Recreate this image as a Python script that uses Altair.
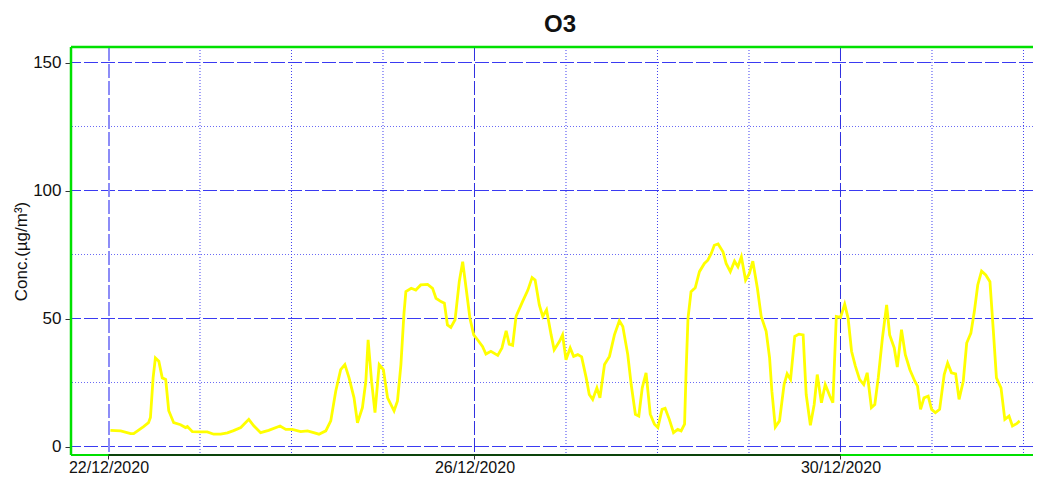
import altair as alt
import pandas as pd

# Hours after 22/12/2020 00:00 and O3 concentration
hours = [0.5, 3.2, 5.8, 6.6, 9.2, 10.5, 11.0, 11.7, 12.3, 13.2, 14.1, 15.0, 15.8, 17.1, 18.9,
         20.2, 20.7, 22.0, 24.2, 25.9, 27.6, 29.4, 31.2, 32.8, 34.7, 36.8, 38.1, 39.9, 42.0,
         45.0, 46.5, 48.2, 50.4, 52.2, 53.8, 55.2, 57.0, 58.3, 59.6, 60.9, 62.0, 63.1, 64.4,
         65.3, 66.6, 67.5, 68.1, 69.0, 69.9, 71.0, 72.1, 73.2, 74.9, 75.8, 76.7, 77.5, 78.0,
         79.4, 80.6, 81.9, 83.7, 85.0, 85.9, 87.2, 88.1, 88.9, 89.8, 90.9, 92.0, 92.9, 93.8,
         94.8, 95.8, 96.8, 98.1, 99.0, 100.3, 102.1, 103.2, 104.3, 105.1, 106.0, 106.9, 108.6,
         110.0, 111.1, 111.9, 113.0, 113.9, 114.9, 116.1, 116.9, 118.3, 119.1, 120.0, 121.1,
         122.0, 123.1, 124.1, 125.3, 126.1, 127.0, 128.1, 128.9, 130.1, 131.4, 132.7, 134.0,
         134.9, 136.2, 137.1, 138.2, 139.1, 140.0, 141.0, 142.1, 143.2, 144.1, 145.2, 146.0,
         147.1, 148.2, 149.3, 150.2, 151.1, 151.5, 152.0, 152.8, 153.9, 155.0, 156.3, 157.2,
         158.1, 158.9, 159.9, 161.2, 162.0, 163.1, 164.2, 165.1, 166.0, 167.1, 168.1, 169.0,
         170.2, 171.2, 172.5, 173.4, 174.0, 174.9, 176.0, 177.2, 178.0, 178.9, 180.0, 181.1,
         182.2, 183.0, 184.1, 185.1, 185.9, 187.0, 188.0, 189.2, 190.0, 190.9, 192.0, 193.1,
         194.0, 194.9, 195.9, 197.0, 198.1, 199.0, 200.1, 201.0, 201.9, 203.0, 204.1, 204.9,
         206.1, 206.9, 208.0, 209.0, 210.2, 211.5, 212.2, 213.0, 213.9, 215.0, 215.9, 216.9,
         218.0, 219.2, 220.1, 221.1, 222.2, 223.1, 224.2, 225.1, 226.2, 227.1, 228.0, 229.0,
         230.1, 231.2, 232.1, 232.9, 234.1, 235.1, 236.2, 237.1, 238.2, 239.0]
o3 = [6.3, 6.1, 5.0, 5.0, 7.8, 9.3, 11.3, 26.8, 34.6, 33.3, 26.8, 26.2, 14.0, 9.3, 8.5,
      7.4, 7.8, 5.8, 5.7, 5.7, 4.8, 4.8, 5.3, 6.2, 7.4, 10.6, 8.1, 5.4, 6.3,
      8.0, 6.7, 6.7, 5.8, 6.1, 5.4, 4.8, 6.1, 10.0, 21.6, 30.0, 32.0, 26.8, 19.0,
      9.3, 15.2, 25.5, 41.7, 25.5, 13.2, 32.0, 30.0, 19.0, 13.9, 17.8, 32.0, 52.0, 60.5,
      61.8, 61.1, 63.1, 63.3, 61.8, 57.9, 56.6, 56.0, 47.5, 46.5, 49.5, 64.4, 72.2, 61.8,
      50.1, 43.6, 41.7, 39.1, 36.1, 37.2, 35.6, 38.5, 45.2, 40.0, 39.5, 50.8, 56.6,
      61.1, 66.0, 65.0, 55.3, 50.8, 53.4, 43.6, 37.8, 41.1, 43.6, 33.9, 38.5,
      35.2, 35.9, 35.0, 26.8, 20.3, 18.4, 22.9, 19.0, 32.0, 35.2, 43.6, 49.1,
      46.9, 35.9, 24.2, 12.6, 11.9, 22.9, 28.8, 12.6, 8.7, 7.4, 14.5, 14.9,
      10.6, 5.4, 6.7, 6.1, 8.7, 29.4, 50.1, 60.5, 62.0, 68.3, 71.5, 72.8,
      75.4, 78.6, 79.1, 76.0, 71.5, 68.3, 72.4, 70.2, 74.1, 65.0, 67.6, 72.4,
      61.8, 50.8, 45.0, 34.6, 21.6, 7.6, 10.0, 24.2, 28.4, 26.2, 43.0, 43.9,
      43.6, 20.3, 8.3, 16.4, 28.1, 17.1, 24.2, 19.7, 17.1, 50.8, 50.4, 55.6,
      50.1, 37.2, 31.4, 26.2, 24.2, 28.8, 15.2, 16.4, 26.8, 42.4, 55.3, 43.6,
      38.5, 31.0, 45.6, 35.9, 30.0, 25.5, 23.6, 14.5, 19.0, 19.7, 14.5, 13.2,
      14.5, 28.1, 32.6, 28.8, 28.4, 18.4, 25.5, 40.4, 44.3, 52.7, 63.1, 68.5,
      67.0, 64.4, 45.0, 26.8, 22.9, 10.6, 11.9, 8.0, 8.9, 10.0]

y_major = [0, 50, 100, 150]
y_minor = [25, 75, 125]
x_major_hours = [0, 96, 192]
x_minor_hours = [24, 48, 72, 120, 144, 168, 216, 240]
x_labels = ["22/12/2020", "26/12/2020", "30/12/2020"]

W, H = 962, 408
X_DOMAIN = [-9.836, 242.492]
Y_DOMAIN = [-3.3203, 156.0547]

df = pd.DataFrame({"h": hours, "v": o3})
xs = alt.Scale(domain=X_DOMAIN, nice=False, zero=False)
ys = alt.Scale(domain=Y_DOMAIN, nice=False, zero=False)

label_expr = "".join(
    f"datum.value == {h} ? '{lab}' : " for h, lab in zip(x_major_hours, x_labels)
) + "''"

x_axis = alt.Axis(
    title=None,
    values=x_major_hours,
    labelExpr=label_expr,
    grid=False,
    domain=False,
    tickColor="#333333",
    tickSize=4,
    labelFont="Liberation Sans",
    labelFontSize=16,
    labelColor="#111111",
    labelPadding=0,
)
y_axis = alt.Axis(
    title="Conc.(µg/m³)",
    values=y_major,
    grid=False,
    domain=False,
    tickColor="#333333",
    tickSize=6,
    labelFont="Liberation Sans",
    labelFontSize=17,
    labelColor="#111111",
    labelPadding=4,
    titleFont="Liberation Sans",
    titleFontSize=17,
    titleFontWeight="normal",
    titleColor="#111111",
    titlePadding=2,
)

X = lambda: alt.X("h:Q", scale=xs, axis=x_axis)
Y = lambda: alt.Y("v:Q", scale=ys, axis=y_axis)

hmaj = alt.Chart(pd.DataFrame({"v": y_major})).mark_rule(
    color="#3a3af2", strokeWidth=1, strokeDash=[14, 3]
).encode(y=Y())

hmin = alt.Chart(pd.DataFrame({"v": y_minor})).mark_rule(
    color="#6a6af5", strokeWidth=1, strokeDash=[1, 2]
).encode(y=Y())

vmin = alt.Chart(pd.DataFrame({"h": x_minor_hours})).mark_rule(
    color="#4040f0", strokeWidth=1, strokeDash=[1, 2]
).encode(x=X())

vmaj_first = alt.Chart(pd.DataFrame({"h": x_major_hours[:1]})).mark_rule(
    color="#8c8cf7", strokeWidth=2, strokeDash=[14, 3], xOffset=0.5
).encode(x=X())

vmaj = alt.Chart(pd.DataFrame({"h": x_major_hours[1:]})).mark_rule(
    color="#2f2fe0", strokeWidth=1, strokeDash=[14, 3]
).encode(x=X())

line = alt.Chart(df).mark_line(color="#ffff00", strokeWidth=2.8).encode(x=X(), y=Y())

# frame: green top, left and bottom; black bottom segment between first and last date label
top_border = alt.Chart().mark_rule(color="#00e000", strokeWidth=2.5).encode(
    x=alt.value(0), x2=alt.value(W), y=alt.value(0)
)
left_border = alt.Chart().mark_rule(color="#00e000", strokeWidth=2.5).encode(
    x=alt.value(0), y=alt.value(0), y2=alt.value(H)
)
bottom_border = alt.Chart().mark_rule(color="#00e000", strokeWidth=2).encode(
    x=alt.value(0), x2=alt.value(W), y=alt.value(H)
)
bottom_black = alt.Chart(
    pd.DataFrame({"h": [x_major_hours[0]], "h2": [x_major_hours[-1]]})
).mark_rule(color="#111111", strokeWidth=1.5).encode(
    x=X(),
    x2="h2:Q",
    y=alt.value(H),
)

chart = alt.layer(
    hmin, hmaj, vmin, vmaj_first, vmaj, line, top_border, left_border, bottom_border, bottom_black
).properties(
    width=W,
    height=H,
    background="white",
    title=alt.TitleParams(
        "O3", font="Liberation Sans", fontSize=24, fontWeight="bold", color="#111111",
        offset=9, dx=8
    ),
    autosize=alt.AutoSizeParams(type="none"),
    padding={"left": 63, "top": 39, "right": 0, "bottom": 21},
).configure_view(stroke=None)

chart.save("out.html", embed_options={"renderer": "svg", "actions": False})
